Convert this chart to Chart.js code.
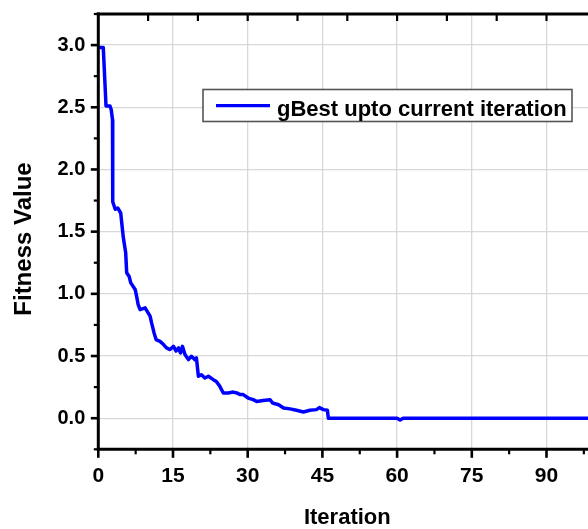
<!DOCTYPE html>
<html><head><meta charset="utf-8">
<script src="https://cdn.jsdelivr.net/npm/chart.js@4.4.0/dist/chart.umd.min.js"></script>
<style>
html,body{margin:0;padding:0;background:#fff;overflow:hidden;width:588px;height:529px}
#wrap{position:absolute;left:0;top:0;width:612px;height:529px}
</style>
</head><body><div id="wrap"><canvas id="c" width="612" height="529"></canvas></div>
<script>
const iterations = [0, 1.0, 1.55, 2.35, 2.6, 2.85, 2.9, 3.4, 3.9, 4.5, 5.0, 5.5, 5.7, 6.2, 6.5, 7.4, 7.7, 8.0, 8.4, 9.4, 10.0, 10.4, 10.7, 11.2, 11.6, 12.4, 13.1, 13.7, 14.4, 15.1, 15.6, 16.1, 16.5, 16.9, 17.4, 18.1, 18.7, 19.4, 19.7, 20.1, 20.7, 21.4, 22.1, 23.1, 23.7, 24.4, 25.1, 26.1, 27.1, 27.8, 28.5, 29.1, 30.1, 31.1, 31.8, 33.1, 34.5, 35.0, 36.2, 37.2, 38.5, 39.8, 41.2, 42.5, 43.8, 44.4, 45.2, 46.0, 46.2, 60.0, 60.6, 61.2, 100];
const fitness = [2.98, 2.98, 2.51, 2.51, 2.48, 2.4, 1.74, 1.68, 1.69, 1.65, 1.46, 1.33, 1.17, 1.14, 1.09, 1.035, 0.98, 0.914, 0.873, 0.887, 0.847, 0.82, 0.766, 0.686, 0.632, 0.618, 0.592, 0.565, 0.552, 0.578, 0.54, 0.565, 0.525, 0.578, 0.512, 0.471, 0.498, 0.471, 0.485, 0.337, 0.35, 0.323, 0.337, 0.31, 0.296, 0.256, 0.203, 0.203, 0.21, 0.203, 0.19, 0.19, 0.162, 0.149, 0.135, 0.143, 0.149, 0.122, 0.108, 0.082, 0.075, 0.064, 0.05, 0.064, 0.069, 0.085, 0.069, 0.064, 0.0, 0.0, -0.015, 0.0, 0.0];
const xTicks = [0, 15, 30, 45, 60, 75, 90];
const yTicks = [0, 0.5, 1.0, 1.5, 2.0, 2.5, 3.0];
const topTicks = [10, 20, 30, 40, 50, 60, 70, 80, 90];
const xRange = [0, 100];
const yRange = [-0.25, 3.25];
const seriesLabel = 'gBest upto current iteration';
const xTitle = 'Iteration';
const yTitle = 'Fitness Value';

const FONT = '"Liberation Sans", Arial, sans-serif';
const PLOT = {left: 98.3, top: 14, right: 596.3, bottom: 449.3};
const CW = 612, CH = 529;

const framePlugin = {
  id: 'frame',
  afterDraw(chart) {
    const ctx = chart.ctx;
    const xs = chart.scales.x, ys = chart.scales.y;
    const L = chart.chartArea.left, R = chart.chartArea.right, T = chart.chartArea.top, B = chart.chartArea.bottom;
    ctx.save();
    ctx.strokeStyle = '#000';
    ctx.lineCap = 'butt';
    const line = (x1, y1, x2, y2, w) => { ctx.lineWidth = w; ctx.beginPath(); ctx.moveTo(x1, y1); ctx.lineTo(x2, y2); ctx.stroke(); };
    const xStep = xTicks[1] - xTicks[0];
    for (const v of xTicks) { const p = xs.getPixelForValue(v); line(p, B, p, B + 8.5, 2.6); }
    for (let v = xTicks[0] + xStep / 2; v < xRange[1]; v += xStep) { const p = xs.getPixelForValue(v); line(p, B, p, B + 5, 2.2); }
    const yStep = yTicks[1] - yTicks[0];
    for (const v of yTicks) { const p = ys.getPixelForValue(v); line(L - 7.5, p, L, p, 2.6); }
    for (let v = yRange[0]; v <= yRange[1] + 1e-9; v += yStep) { const p = ys.getPixelForValue(v); line(L - 4.5, p, L, p, 2.2); }
    for (const v of topTicks) { const p = xs.getPixelForValue(v); line(p, T, p, T + 7, 2.2); }
    line(L - 1.5, B, R + 1.5, B, 3);
    line(L - 1.5, T, R + 1.5, T, 3);
    line(L, T - 1.5, L, B + 1.5, 3);
    line(R, T - 1.5, R, B + 1.5, 3);
    ctx.fillStyle = '#000';
    ctx.font = 'bold 24px ' + FONT;
    ctx.textAlign = 'center';
    ctx.textBaseline = 'middle';
    ctx.translate(24, 239);
    ctx.rotate(-Math.PI / 2);
    ctx.fillText(yTitle, 0, 0);
    ctx.restore();
    ctx.save();
    const ds = chart.data.datasets[0];
    ctx.fillStyle = '#fff';
    ctx.fillRect(203, 89.5, 369, 32);
    ctx.strokeStyle = '#555';
    ctx.lineWidth = 1.6;
    ctx.strokeRect(203, 89.5, 369, 32);
    ctx.strokeStyle = ds.borderColor;
    ctx.lineWidth = 3.2;
    ctx.beginPath(); ctx.moveTo(216, 105.7); ctx.lineTo(270, 105.7); ctx.stroke();
    ctx.fillStyle = '#000';
    ctx.font = 'bold 22px ' + FONT;
    ctx.textAlign = 'left';
    ctx.textBaseline = 'alphabetic';
    ctx.fillText(ds.label, 277, 116);
    ctx.restore();
  }
};

new Chart(document.getElementById('c'), {
  type: 'line',
  data: {
    datasets: [{
      label: seriesLabel,
      data: iterations.map((x, i) => ({x: x, y: fitness[i]})),
      borderColor: '#0000ff',
      borderWidth: 3.5,
      pointRadius: 0,
      tension: 0,
      borderJoinStyle: 'round',
      fill: false
    }]
  },
  options: {
    responsive: false,
    animation: false,
    devicePixelRatio: 1,
    layout: {padding: {left: 0, top: PLOT.top, right: CW - PLOT.right, bottom: 0}},
    plugins: {legend: {display: false}, tooltip: {enabled: false}},
    scales: {
      x: {
        type: 'linear', min: xRange[0], max: xRange[1],
        afterBuildTicks: s => { s.ticks = xTicks.map(v => ({value: v})); },
        afterFit: s => { s.height = CH - PLOT.bottom; s.paddingLeft = 0; s.paddingRight = 0; },
        grid: {color: '#d8d8d8', lineWidth: 1.3, drawTicks: false},
        border: {display: false},
        ticks: {color: '#000', font: {family: FONT, size: 21, weight: 'bold'}, padding: 14, maxRotation: 0, autoSkip: false,
          callback: v => String(v)},
        title: {display: true, text: xTitle, color: '#000', font: {family: FONT, size: 22, weight: 'bold', lineHeight: 1}, padding: {top: 0, bottom: 0}}
      },
      y: {
        type: 'linear', min: yRange[0], max: yRange[1],
        afterBuildTicks: s => { s.ticks = yTicks.map(v => ({value: v})); },
        afterFit: s => { s.width = PLOT.left; s.paddingTop = 0; s.paddingBottom = 0; },
        grid: {color: '#d8d8d8', lineWidth: 1.3, drawTicks: false},
        border: {display: false},
        ticks: {color: '#000', font: {family: FONT, size: 20, weight: 'bold'}, padding: 13, autoSkip: false,
          callback: v => Number(v).toFixed(1)}
      }
    }
  },
  plugins: [framePlugin]
});
</script>
</body></html>
